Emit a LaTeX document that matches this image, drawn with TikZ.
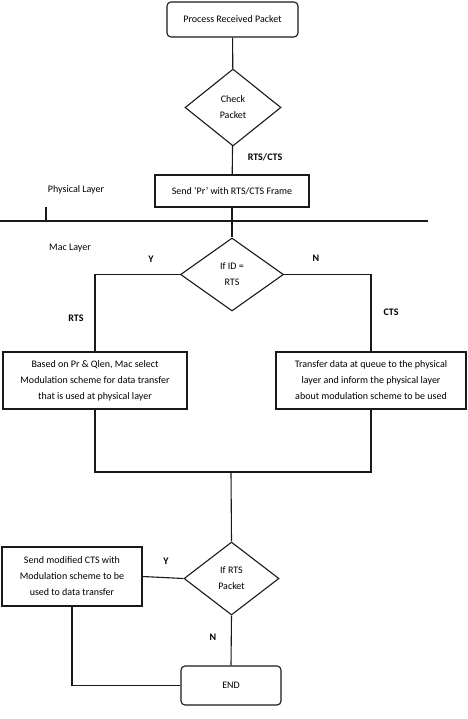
\documentclass[tikz,border=0pt]{standalone}
\usepackage{fontspec}
\setmainfont{Carlito}
\usetikzlibrary{shapes.geometric}

\begin{document}
\begin{tikzpicture}[
  x=1pt, y=-1pt,
  line/.style={line width=1.1pt, black!90},
  txt/.style={font=\fontsize{10}{16}\selectfont},
  proc/.style={draw=black!90, line width=1.1pt, rectangle, align=center, inner sep=0pt, txt},
  term/.style={proc, rounded corners=4pt},
  decision/.style={draw=black!90, diamond, line width=1.1pt, align=center, inner sep=0pt, txt},
  label/.style={font=\fontsize{10}{12}\selectfont\bfseries},
  layer/.style={font=\fontsize{10}{12}\selectfont}
]
  \useasboundingbox (0,0) rectangle (467,719);

  % physical layer
  \node[term, minimum width=131pt, minimum height=35pt] (start) at (232.5,19.5) {Process Received Packet};
  \node[decision, minimum width=96pt, minimum height=77pt] (check) at (233,107.5) {Check\\Packet};
  \node[proc, minimum width=154pt, minimum height=32pt] (send) at (232,191) {Send ‘Pr’ with RTS/CTS Frame};
  \node[layer] (phy) at (76,190) {Physical Layer};

  % layer boundary
  \coordinate (divL) at (0,221);
  \coordinate (divR) at (428,221);
  \coordinate (tick) at (46,207);
  \draw[line] (divL) -- (divR);
  \draw[line] (tick) -- (tick |- divL);

  % mac layer
  \node[layer] (mac) at (70,248) {Mac Layer};
  \node[decision, minimum width=103pt, minimum height=73pt] (ifid) at (232,274.5) {If ID =\\RTS};
  \node[proc, minimum width=184pt, minimum height=57pt] (rtsbox) at (95,380.5)
    {Based on Pr \& Qlen, Mac select\\Modulation scheme for data transfer\\that is used at physical layer};
  \node[proc, minimum width=190pt, minimum height=57pt] (ctsbox) at (371,380.5)
    {Transfer data at queue to the physical\\layer and inform the physical layer\\about modulation scheme to be used};
  \coordinate (join) at (231,472);
  \node[decision, minimum width=95pt, minimum height=73pt] (ifrts) at (231.5,578.5) {If RTS\\Packet};
  \node[proc, minimum width=140pt, minimum height=59pt] (modcts) at (72,576.5)
    {Send modified CTS with\\Modulation scheme to be\\used to data transfer};
  \node[term, minimum width=100pt, minimum height=39pt] (end) at (231,685.5) {END};

  % connectors
  \draw[line] (start) -- (check);
  \draw[line] (check) -- (send);
  \draw[line] (send) -- (ifid);
  \draw[line] (ifid.west) -| (rtsbox.north);
  \draw[line] (ifid.east) -| (ctsbox.north);
  \draw[line] (rtsbox.south) |- (join) -| (ctsbox.south);
  \draw[line] (join) -- (ifrts.north);
  \draw[line] (ifrts.west) -- (modcts.east);
  \draw[line] (ifrts.south) -- (end.north);
  \draw[line] (modcts.south) |- (end.west);

  % labels
  \node[label] (lrtscts) at (265,157) {RTS/CTS};
  \node[label] (ly1) at (151,259) {Y};
  \node[label] (ln1) at (316,258) {N};
  \node[label] (lrts) at (76,318) {RTS};
  \node[label] (lcts) at (391,312) {CTS};
  \node[label] (ly2) at (166,561) {Y};
  \node[label] (ln2) at (213,637) {N};
\end{tikzpicture}
\end{document}
